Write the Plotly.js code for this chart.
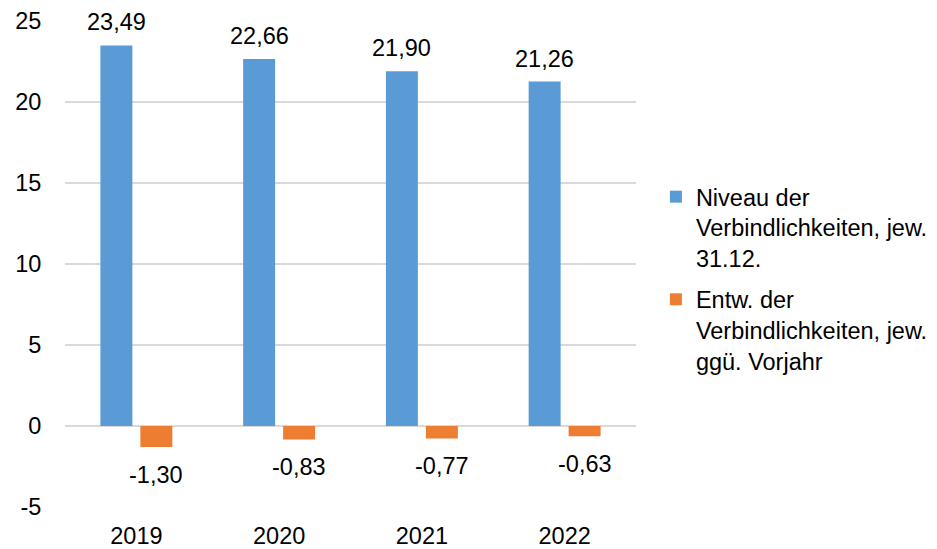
<!DOCTYPE html>
<html><head><meta charset="utf-8">
<script src="https://cdn.plot.ly/plotly-3.0.1.min.js"></script>
<style>html,body{margin:0;padding:0;background:#fff}#c{width:937px;height:549px}</style>
</head><body><div id="c"></div>
<script>
const years = ['2019','2020','2021','2022'];
const niveau = [23.49, 22.66, 21.90, 21.26];
const entw = [-1.30, -0.83, -0.77, -0.63];
const yTicks = [-5, 0, 5, 10, 15, 20, 25];
const nameNiveau = 'Niveau der<br>Verbindlichkeiten, jew.<br>31.12.';
const nameEntw = 'Entw. der<br>Verbindlichkeiten, jew.<br>ggü. Vorjahr';
const fmt = v => v.toFixed(2).replace('.', ',');

const FONT = 'Arial, "Liberation Sans", sans-serif';
const FS = 23.5;
const xpos = years.map((_, i) => i);

const annotations = [];
xpos.forEach((x, i) => {
  annotations.push({x: x, y: niveau[i], xref: 'x', yref: 'y', text: fmt(niveau[i]),
    showarrow: false, xshift: -20, yshift: 23, yanchor: 'middle',
    font: {family: FONT, size: FS, color: '#000'}});
  annotations.push({x: x, y: entw[i], xref: 'x', yref: 'y', text: fmt(entw[i]),
    showarrow: false, xshift: 20, yshift: -28, yanchor: 'middle',
    font: {family: FONT, size: FS, color: '#000'}});
});

const data = [
  {type: 'bar', x: xpos, y: niveau, name: nameNiveau, legendgroup: 'a', marker: {color: '#5B9BD5', line: {width: 0}}},
  {type: 'bar', x: xpos, y: entw, name: nameEntw, legendgroup: 'b', marker: {color: '#ED7D31', line: {width: 0}}}
];

const layout = {
  width: 937, height: 549,
  margin: {l: 65, r: 301, t: 21, b: 42, pad: 0},
  paper_bgcolor: '#fff', plot_bgcolor: '#fff',
  font: {family: FONT, size: FS, color: '#000'},
  barmode: 'group', bargap: 0.44, bargroupgap: 0.2,
  xaxis: {type: 'linear', range: [-0.5, 3.5], tickvals: xpos, ticktext: years,
    showgrid: false, zeroline: false, showline: false,
    ticks: 'outside', ticklen: 8, tickcolor: 'rgba(0,0,0,0)',
    tickfont: {family: FONT, size: FS, color: '#000'}},
  yaxis: {range: [-5, 25], tickvals: yTicks, ticktext: yTicks.map(String),
    showgrid: true, gridcolor: '#D9D9D9', gridwidth: 2,
    zeroline: true, zerolinecolor: '#D9D9D9', zerolinewidth: 2, showline: false,
    ticks: 'outside', ticklen: 18, tickcolor: 'rgba(0,0,0,0)',
    tickfont: {family: FONT, size: FS, color: '#000'}},
  showlegend: true,
  legend: {xref: 'container', yref: 'container', x: 0.7, y: 0.492, xanchor: 'left', yanchor: 'middle',
    font: {family: FONT, size: FS, color: '#000'}, tracegroupgap: 8, valign: 'top',
    bgcolor: 'rgba(0,0,0,0)', traceorder: 'grouped'},
  annotations: annotations
};

Plotly.newPlot('c', data, layout, {displayModeBar: false, staticPlot: true});
</script></body></html>
